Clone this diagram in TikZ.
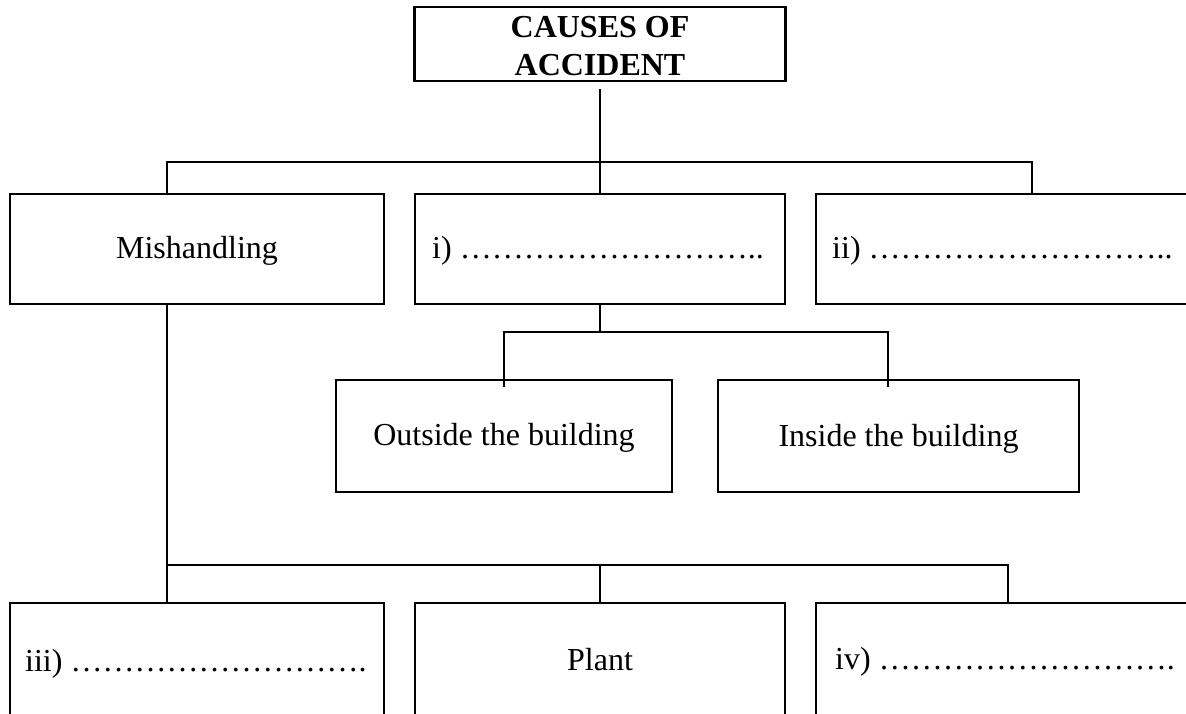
\documentclass[tikz,border=0pt]{standalone}
\usepackage{fontspec}
\setmainfont{Liberation Serif}
\tikzset{
  cbox/.style={draw, line width=2.6pt, rectangle, inner sep=0pt},
  lbl/.style={font=\fontsize{32}{38}\selectfont, inner sep=0pt},
  conn/.style={line width=2pt}
}
\begin{document}
\begin{tikzpicture}[x=1pt,y=-1pt]
\path[use as bounding box] (0,0) rectangle (1186,713);
\clip (0,0) rectangle (1186,713);
% boxes
\node[cbox, minimum width=371pt, minimum height=74pt] (top) at (600,44) {};
\node[cbox, minimum width=374pt, minimum height=110pt] (mish) at (197,249) {};
\node[cbox, minimum width=370pt, minimum height=110pt] (one) at (600,249) {};
\node[cbox, minimum width=390pt, minimum height=110pt] (two) at (1011,249) {};
\node[cbox, minimum width=336pt, minimum height=112pt] (outs) at (504,436) {};
\node[cbox, minimum width=361pt, minimum height=112pt] (ins) at (898.5,436) {};
\node[cbox, minimum width=374pt, minimum height=130pt] (three) at (197,668) {};
\node[cbox, minimum width=370pt, minimum height=130pt] (plant) at (600,668) {};
\node[cbox, minimum width=390pt, minimum height=130pt] (four) at (1011,668) {};
% texts
\node[lbl, align=center, font=\fontsize{32}{38}\selectfont\bfseries] (toptxt) at (600,46) {CAUSES OF\\ACCIDENT};
\node[lbl, anchor=base] (mishtxt) at (197,258) {Mishandling};
\node[lbl, anchor=base west] (onetxt) at (432,258) {i) ………………………..};
\node[lbl, anchor=base west] (twotxt) at (832,258) {ii) ………………………..};
\node[lbl, anchor=base] (outstxt) at (504,445) {Outside the building};
\node[lbl, anchor=base] (instxt) at (898.5,446) {Inside the building};
\node[lbl, anchor=base west] (threetxt) at (25,671) {iii) ……………………….};
\node[lbl, anchor=base] (planttxt) at (600,670) {Plant};
\node[lbl, anchor=base west] (fourtxt) at (835,669) {iv) ……………………….};
% connectors, level 1
\coordinate (hAL) at (167,162);
\coordinate (hAR) at (1032,162);
\draw[conn, shorten <=7pt] (top.south) -- (one.north);
\draw[conn] (hAL |- mish.north) -- (hAL) -- (hAR) -- (hAR |- two.north);
% connectors under i)
\coordinate (hBM) at (600,332);
\coordinate (hBL) at (504,332);
\coordinate (hBR) at (888,332);
\coordinate (dBL) at (504,387);
\coordinate (dBR) at (888,387);
\draw[conn] (one.south) -- (hBM);
\draw[conn] (dBL) -- (hBL) -- (hBR) -- (dBR);
% connectors under Mishandling
\coordinate (hCL) at (167,565);
\coordinate (hCR) at (1008,565);
\coordinate (hCM) at (600,565);
\draw[conn] (hAL |- mish.south) -- (hCL |- three.north);
\draw[conn] (hCL) -- (hCR) -- (hCR |- four.north);
\draw[conn] (hCM) -- (plant.north);
\end{tikzpicture}
\end{document}
